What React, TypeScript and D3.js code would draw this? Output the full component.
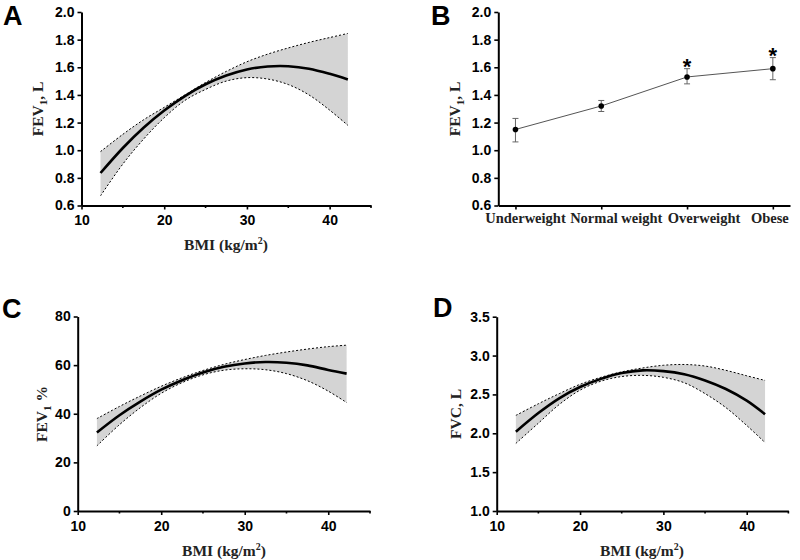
import React, { useEffect, useRef } from "react";
import * as d3 from "d3";

// BMI grid the fitted curves were read at
const bmiGrid = [12.3, 15, 17.5, 20, 22.5, 25, 27.5, 30, 32.5, 35, 37.5, 40, 42.2];

// A: FEV1 (L)
const fev1Fit = [0.835, 1.016, 1.162, 1.287, 1.392, 1.477, 1.54, 1.584, 1.606, 1.608, 1.59, 1.553, 1.512];
const fev1Upper = [0.99, 1.115, 1.22, 1.31, 1.4, 1.49, 1.57, 1.64, 1.695, 1.74, 1.78, 1.815, 1.845];
const fev1Lower = [0.67, 0.9, 1.08, 1.235, 1.36, 1.44, 1.5, 1.525, 1.515, 1.475, 1.4, 1.29, 1.18];

// C: FEV1 %
const fev1pFit = [32.3, 39.4, 45.0, 49.9, 53.8, 57.0, 59.3, 60.7, 61.3, 61.0, 59.9, 58.0, 56.5];
const fev1pUpper = [38.0, 43.0, 47.3, 51.3, 54.8, 57.8, 60.3, 62.3, 64.0, 65.4, 66.6, 67.6, 68.2];
const fev1pLower = [26.8, 35.5, 42.5, 48.4, 52.8, 56.0, 57.9, 58.5, 58.1, 56.5, 53.6, 49.3, 44.6];

// D: FVC (L)
const fvcFit = [2.02, 2.26, 2.45, 2.595, 2.7, 2.775, 2.81, 2.8, 2.76, 2.68, 2.57, 2.42, 2.245];
const fvcUpper = [2.23, 2.38, 2.51, 2.63, 2.72, 2.79, 2.84, 2.875, 2.885, 2.865, 2.81, 2.74, 2.68];
const fvcLower = [1.87, 2.13, 2.37, 2.555, 2.67, 2.73, 2.745, 2.72, 2.65, 2.51, 2.33, 2.1, 1.88];

// B: FEV1 by weight group
const weightGroups = ["Underweight", "Normal weight", "Overweight", "Obese"];
const groupFev1 = [1.15, 1.32, 1.53, 1.59];
const groupLow = [1.06, 1.28, 1.48, 1.51];
const groupHigh = [1.23, 1.36, 1.59, 1.67];
const groupStar = [false, false, true, true];
const groupLabelNudge = [10, 15, 17, -3];

// ticks
const bmiTicks = [10, 20, 30, 40];
const bmiMinor = [15, 25, 35, 45];
const fev1Ticks = [0.6, 0.8, 1.0, 1.2, 1.4, 1.6, 1.8, 2.0];
const fev1pTicks = [0, 20, 40, 60, 80];
const fvcTicks = [1.0, 1.5, 2.0, 2.5, 3.0, 3.5];

const sans = "Arial, 'Liberation Sans', sans-serif";
const serif = "'Times New Roman', 'Liberation Serif', serif";

function styleAxis(g) {
  g.select(".domain").attr("stroke", "#000").attr("stroke-width", 2);
  g.selectAll(".tick line").attr("stroke", "#000").attr("stroke-width", 1.6);
  g.selectAll(".tick text")
    .attr("font-family", sans)
    .attr("font-weight", "bold")
    .attr("font-size", 14)
    .attr("fill", "#000");
}

// y title with optional subscript
function yTitle(svg, x, y, before, sub, after) {
  const t = svg
    .append("text")
    .attr("transform", `translate(${x},${y}) rotate(-90)`)
    .attr("text-anchor", "middle")
    .attr("font-family", serif)
    .attr("font-weight", "bold")
    .attr("font-size", 15.5)
    .attr("fill", "#222");
  t.append("tspan").text(before);
  if (sub) {
    t.append("tspan").attr("dy", 4).attr("font-size", 11).text(sub);
    t.append("tspan").attr("dy", -4).text(after);
  }
}

function bmiTitle(svg, x, y) {
  const t = svg
    .append("text")
    .attr("x", x)
    .attr("y", y)
    .attr("text-anchor", "middle")
    .attr("font-family", serif)
    .attr("font-weight", "bold")
    .attr("font-size", 15.5)
    .attr("fill", "#222");
  t.append("tspan").text("BMI (kg/m");
  t.append("tspan").attr("dy", -6).attr("font-size", 10).text("2");
  t.append("tspan").attr("dy", 6).text(")");
}

function letter(svg, x, y, s) {
  svg
    .append("text")
    .attr("x", x)
    .attr("y", y)
    .attr("font-family", sans)
    .attr("font-weight", "bold")
    .attr("font-size", 27)
    .text(s);
}

function curvePanel(svg, box, fit, upper, lower, yTicks, yFmt) {
  const x = d3.scaleLinear().domain([10, 45]).range([box.x0, box.x1]);
  const y = d3
    .scaleLinear()
    .domain([yTicks[0], yTicks[yTicks.length - 1]])
    .range([box.y1, box.y0]);

  const rows = bmiGrid.map((b, i) => ({ b, fit: fit[i], hi: upper[i], lo: lower[i] }));
  const curve = d3.curveCatmullRom;

  svg
    .append("path")
    .datum(rows)
    .attr("fill", "#d4d4d4")
    .attr(
      "d",
      d3
        .area()
        .x((d) => x(d.b))
        .y0((d) => y(d.lo))
        .y1((d) => y(d.hi))
        .curve(curve)
    );

  [upper, lower].forEach((vals) => {
    svg
      .append("path")
      .datum(bmiGrid.map((b, i) => [b, vals[i]]))
      .attr("fill", "none")
      .attr("stroke", "#000")
      .attr("stroke-width", 1)
      .attr("stroke-dasharray", "2,2")
      .attr(
        "d",
        d3
          .line()
          .x((d) => x(d[0]))
          .y((d) => y(d[1]))
          .curve(curve)
      );
  });

  svg
    .append("path")
    .datum(rows)
    .attr("fill", "none")
    .attr("stroke", "#000")
    .attr("stroke-width", 2.6)
    .attr(
      "d",
      d3
        .line()
        .x((d) => x(d.b))
        .y((d) => y(d.fit))
        .curve(curve)
    );

  const gx = svg
    .append("g")
    .attr("transform", `translate(0,${box.y1})`)
    .call(d3.axisBottom(x).tickValues(bmiTicks).tickSize(4).tickSizeOuter(0).tickPadding(6));
  styleAxis(gx);
  gx.selectAll(".minor")
    .data(bmiMinor)
    .enter()
    .append("line")
    .attr("x1", (d) => x(d))
    .attr("x2", (d) => x(d))
    .attr("y1", 0)
    .attr("y2", 2.5)
    .attr("stroke", "#000")
    .attr("stroke-width", 1.6);

  const gy = svg
    .append("g")
    .attr("transform", `translate(${box.x0},0)`)
    .call(d3.axisLeft(y).tickValues(yTicks).tickFormat(d3.format(yFmt)).tickSize(4).tickSizeOuter(0).tickPadding(3));
  styleAxis(gy);
}

function groupPanel(svg, box) {
  const x = d3.scalePoint().domain(weightGroups).range([box.x0, box.x1]).padding(0.2);
  const y = d3
    .scaleLinear()
    .domain([fev1Ticks[0], fev1Ticks[fev1Ticks.length - 1]])
    .range([box.y1, box.y0]);

  const rows = weightGroups.map((g, i) => ({
    g,
    v: groupFev1[i],
    lo: groupLow[i],
    hi: groupHigh[i],
    star: groupStar[i],
    nudge: groupLabelNudge[i],
  }));

  const eb = svg.append("g").attr("stroke", "#666").attr("stroke-width", 1);
  rows.forEach((d) => {
    const cx = x(d.g);
    eb.append("line").attr("x1", cx).attr("x2", cx).attr("y1", y(d.lo)).attr("y2", y(d.hi));
    eb.append("line").attr("x1", cx - 3).attr("x2", cx + 3).attr("y1", y(d.lo)).attr("y2", y(d.lo));
    eb.append("line").attr("x1", cx - 3).attr("x2", cx + 3).attr("y1", y(d.hi)).attr("y2", y(d.hi));
  });

  svg
    .append("path")
    .datum(rows)
    .attr("fill", "none")
    .attr("stroke", "#555")
    .attr("stroke-width", 1)
    .attr(
      "d",
      d3
        .line()
        .x((d) => x(d.g))
        .y((d) => y(d.v))
    );

  svg
    .selectAll(".pt")
    .data(rows)
    .enter()
    .append("circle")
    .attr("cx", (d) => x(d.g))
    .attr("cy", (d) => y(d.v))
    .attr("r", 2.8)
    .attr("fill", "#000");

  svg
    .selectAll(".star")
    .data(rows.filter((d) => d.star))
    .enter()
    .append("text")
    .attr("x", (d) => x(d.g))
    .attr("y", (d) => y(d.hi) + 5.5)
    .attr("text-anchor", "middle")
    .attr("font-family", sans)
    .attr("font-weight", "bold")
    .attr("font-size", 22)
    .text("*");

  const gx = svg
    .append("g")
    .attr("transform", `translate(0,${box.y1})`)
    .call(d3.axisBottom(x).tickSize(4).tickSizeOuter(0).tickFormat(() => ""));
  styleAxis(gx);

  svg
    .selectAll(".cat")
    .data(rows)
    .enter()
    .append("text")
    .attr("x", (d) => x(d.g) + d.nudge)
    .attr("y", box.y1 + 17.5)
    .attr("text-anchor", "middle")
    .attr("font-family", serif)
    .attr("font-weight", "bold")
    .attr("font-size", 14.5)
    .attr("fill", "#222")
    .text((d) => d.g);

  const gy = svg
    .append("g")
    .attr("transform", `translate(${box.x0},0)`)
    .call(d3.axisLeft(y).tickValues(fev1Ticks).tickFormat(d3.format(".1f")).tickSize(4).tickSizeOuter(0).tickPadding(3));
  styleAxis(gy);
}

const App = () => {
  const svgRef = useRef(null);

  useEffect(() => {
    const svg = d3.select(svgRef.current);
    svg.selectAll("*").remove();

    const boxA = { x0: 81.5, x1: 371, y0: 12, y1: 205.5 };
    const boxB = { x0: 498.3, x1: 790, y0: 12, y1: 205.5 };
    const boxC = { x0: 77.7, x1: 370, y0: 316.5, y1: 511 };
    const boxD = { x0: 496.7, x1: 788.4, y0: 316.7, y1: 511 };

    curvePanel(svg, boxA, fev1Fit, fev1Upper, fev1Lower, fev1Ticks, ".1f");
    groupPanel(svg, boxB);
    curvePanel(svg, boxC, fev1pFit, fev1pUpper, fev1pLower, fev1pTicks, "d");
    curvePanel(svg, boxD, fvcFit, fvcUpper, fvcLower, fvcTicks, ".1f");

    yTitle(svg, 43, 109, "FEV", "1", ", L");
    yTitle(svg, 460, 109, "FEV", "1", ", L");
    yTitle(svg, 47, 414, "FEV", "1", " %");
    yTitle(svg, 461, 414, "FVC, L", null, null);

    bmiTitle(svg, 226, 250);
    bmiTitle(svg, 224, 556);
    bmiTitle(svg, 642, 556);

    letter(svg, 3, 24.5, "A");
    letter(svg, 431, 24.5, "B");
    letter(svg, 2, 318, "C");
    letter(svg, 433, 317, "D");
  }, []);

  return (
    <svg
      ref={svgRef}
      width={800}
      height={560}
      style={{ position: "absolute", left: 0, top: 0, background: "#fff" }}
    />
  );
};

export default App;
